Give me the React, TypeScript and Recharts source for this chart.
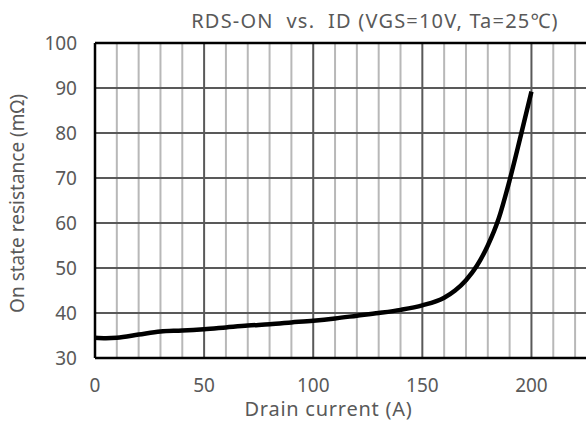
import React from 'react';
import { LineChart, Line, XAxis, YAxis, ReferenceLine } from 'recharts';

// Drain current (A) vs on-state resistance (mΩ)
const currentA = [0, 5, 10, 20, 30, 40, 50, 60, 70, 80, 90, 100, 110, 120, 130, 140, 150, 160, 165, 170, 175, 180, 185, 190, 195, 200];
const resistance = [34.5, 34.4, 34.5, 35.2, 35.9, 36.1, 36.4, 36.8, 37.2, 37.5, 37.9, 38.3, 38.8, 39.4, 40.0, 40.7, 41.7, 43.4, 45.0, 47.3, 50.5, 55.0, 61.0, 69.5, 79.2, 89.2];

const xTicks = [0, 10, 20, 30, 40, 50, 60, 70, 80, 90, 100, 110, 120, 130, 140, 150, 160, 170, 180, 190, 200, 210, 220];
const xMajor = [50, 100, 150, 200];
const yTicks = [30, 40, 50, 60, 70, 80, 90, 100];

const TITLE = 'RDS-ON  vs.  ID (VGS=10V, Ta=25℃)';
const FONT = '"Noto Sans", "Open Sans", sans-serif';
const TEXT = '#595959';

const data = currentA.map((x, i) => ({ x, r: resistance[i] }));

const App: React.FC = () => {
    return (
        <div style={{ position: 'absolute', left: 0, top: 0, width: 586, height: 422, background: '#fff', fontFamily: FONT }}>
            <div style={{ position: 'absolute', left: 0, width: 750, top: 8, textAlign: 'center', fontSize: 20, letterSpacing: 1.2, color: TEXT, whiteSpace: 'pre', lineHeight: '26px' }}>
                {TITLE}
            </div>
            <LineChart width={586} height={422} data={data} margin={{ top: 43, right: 0, bottom: 0, left: 0 }}>
                <XAxis
                    dataKey="x"
                    type="number"
                    domain={[0, 225]}
                    ticks={xTicks}
                    interval={0}
                    tickFormatter={(v: number) => (v % 50 === 0 ? String(v) : '')}
                    tickLine={false}
                    tickSize={6}
                    tickMargin={15}
                    height={64}
                    axisLine={false}
                    tick={{ fill: TEXT, fontSize: 19, fontFamily: FONT }}
                    label={{ value: 'Drain current (A)', position: 'insideBottom', offset: 6, fill: TEXT, fontSize: 20, fontFamily: FONT, dx: -12, style: { letterSpacing: 0.75 } }}
                />
                <YAxis
                    type="number"
                    domain={[30, 100]}
                    ticks={yTicks}
                    interval={0}
                    width={95}
                    tickLine={false}
                    tickSize={6}
                    tickMargin={12}
                    axisLine={false}
                    tick={{ fill: TEXT, fontSize: 19, fontFamily: FONT }}
                    label={{ value: 'On state resistance (mΩ)', angle: -90, position: 'insideLeft', offset: 17, dy: 3, fill: TEXT, fontSize: 19, fontFamily: FONT, style: { textAnchor: 'middle' } }}
                />
                {xTicks.filter((t) => t % 50 !== 0).map((t) => (
                    <ReferenceLine key={`mx${t}`} x={t} stroke="#b8b8b8" strokeWidth={2} />
                ))}
                {yTicks.slice(1, -1).map((t) => (
                    <ReferenceLine key={`hy${t}`} y={t} stroke="#595959" strokeWidth={2} />
                ))}
                {xMajor.map((t) => (
                    <ReferenceLine key={`Mx${t}`} x={t} stroke="#595959" strokeWidth={2} />
                ))}
                <ReferenceLine y={100} stroke="#000" strokeWidth={2.5} />
                <ReferenceLine y={30} stroke="#000" strokeWidth={2.5} />
                <ReferenceLine x={0} stroke="#000" strokeWidth={2.5} />
                <Line
                    type="monotone"
                    dataKey="r"
                    stroke="#000"
                    strokeWidth={4.5}
                    dot={false}
                    isAnimationActive={false}
                />
            </LineChart>
        </div>
    );
};

export default App;
